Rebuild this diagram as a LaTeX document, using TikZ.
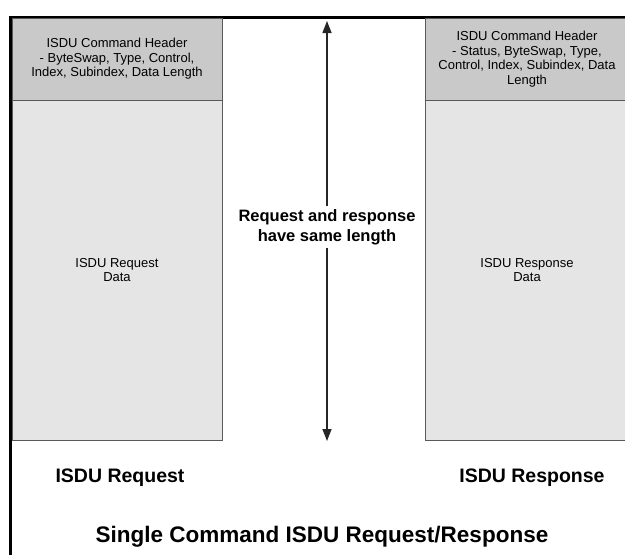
\documentclass[tikz,border=0pt]{standalone}
\usepackage{fontspec}
\setmainfont{Liberation Sans}
\usetikzlibrary{positioning, arrows.meta}

\begin{document}
\begin{tikzpicture}[
  x=1pt, y=-1pt,
  font=\fontsize{13}{14.5}\selectfont,
  hdrbox/.style={draw=black!65, fill=black!21, align=center, line width=0.8pt,
                 minimum width=210pt, minimum height=82pt, inner sep=1pt},
  databox/.style={draw=black!65, fill=black!10, align=center, line width=0.8pt,
                  minimum width=210pt, minimum height=340pt, inner sep=1pt},
  caption/.style={font=\bfseries\fontsize{19.5}{22}\selectfont},
  arrow/.style={-{Triangle[length=12pt, width=9pt]}, line width=1.4pt, black!85},
]
\useasboundingbox (0,0) rectangle (625,555);

% frame
\draw[line width=3pt] (10,555) -- (10,17) -- (625,17);

% request side
\node[hdrbox] (reqhdr) at (117,59) {ISDU Command Header\\- ByteSwap, Type, Control,\\Index, Subindex, Data Length};
\node[databox] (reqdata) at (117,270) {ISDU Request\\Data};
\node[caption] (reqlbl) at (120,478) {ISDU Request};

% response side
\node[hdrbox, minimum width=204pt] (rsphdr) at (527,59) {ISDU Command Header\\- Status, ByteSwap, Type,\\Control, Index, Subindex, Data\\Length};
\node[databox, minimum width=204pt] (rspdata) at (527,270) {ISDU Response\\Data};
\node[caption] (rsplbl) at (532,478) {ISDU Response};

% same length marker
\node[align=center, fill=white, inner sep=3pt,
      font=\bfseries\fontsize{16.5}{20}\selectfont] (same) at (327,227)
  {Request and response\\have same length};
\coordinate (topend) at (327,21);
\coordinate (botend) at (327,441);
\draw[arrow] (same) -- (topend);
\draw[arrow] (same) -- (botend);

\node[font=\bfseries\fontsize{22.5}{25}\selectfont] (title) at (322,537)
  {Single Command ISDU Request/Response};
\end{tikzpicture}
\end{document}
